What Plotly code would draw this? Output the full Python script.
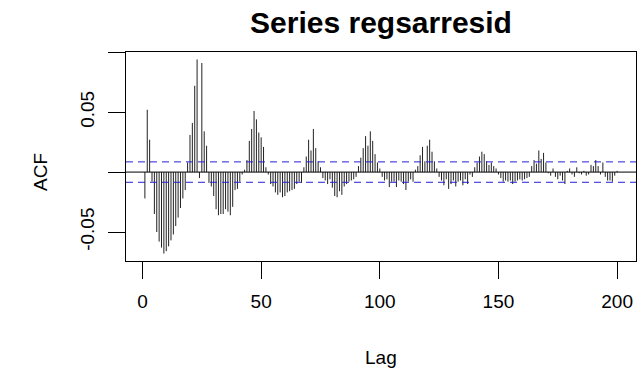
import plotly.graph_objects as go

lags = list(range(1, 201))
acf_vals = [
    -0.022, 0.052, 0.027, -0.008, -0.035, -0.050, -0.058, -0.063, -0.068, -0.066,
    -0.062, -0.057, -0.052, -0.045, -0.038, -0.030, -0.022, -0.015, 0.008, 0.031,
    0.041, 0.072, 0.094, -0.005, 0.091, 0.034, 0.022, -0.009, -0.012, -0.020,
    -0.031, -0.036, -0.035, -0.035, -0.031, -0.033, -0.036, -0.029, -0.015, -0.014,
    -0.008, -0.002, 0.002, 0.010, 0.026, 0.036, 0.051, 0.044, 0.033, 0.029,
    0.021, 0.004, -0.002, -0.010, -0.012, -0.017, -0.019, -0.017, -0.021, -0.020,
    -0.017, -0.016, -0.015, -0.014, -0.010, -0.008, -0.009, 0.004, 0.013, 0.027,
    0.018, 0.036, 0.020, 0.009, 0.004, -0.005, -0.007, -0.010, -0.006, -0.013,
    -0.020, -0.021, -0.016, -0.019, -0.012, -0.010, -0.008, -0.007, -0.006, -0.004,
    0.005, 0.012, 0.020, 0.030, 0.022, 0.034, 0.026, 0.015, 0.008, 0.003,
    -0.004, -0.007, -0.006, -0.0125, -0.008, -0.008, -0.0125, -0.007, -0.008, -0.010,
    -0.015, -0.008, -0.006, -0.008, 0.002, 0.005, 0.014, 0.021, 0.009, 0.022,
    0.027, 0.017, 0.009, 0.003, -0.004, -0.007, -0.011, -0.006, -0.014, -0.010,
    -0.007, -0.012, -0.008, -0.007, -0.011, -0.006, -0.010, -0.002, -0.004, 0.004,
    0.008, 0.013, 0.017, 0.015, 0.009, 0.006, 0.008, 0.005, 0.003, -0.002,
    -0.005, -0.008, -0.007, -0.008, -0.007, -0.010, -0.008, -0.007, -0.006, -0.007,
    -0.006, -0.005, -0.004, 0.005, 0.010, 0.007, 0.018, 0.011, 0.016, 0.008,
    -0.001, -0.003, 0.003, -0.004, -0.006, -0.003, -0.007, -0.010, 0.001, 0.003,
    -0.002, -0.004, 0.004, -0.001, -0.002, 0.001, -0.003, -0.002, 0.006, 0.005,
    0.010, 0.005, -0.002, 0.008, -0.004, -0.007, -0.007, -0.008, -0.003, 0.001,
]
conf_limit = 0.0085
x_ticks = [0, 50, 100, 150, 200]
y_ticks = [-0.05, 0.0, 0.05, 0.10]
y_tick_text = ["-0.05", "", "0.05", ""]
title_text = "Series regsarresid"
x_label = "Lag"
y_label = "ACF"

FONT = "Liberation Sans, Arial, sans-serif"

xs, ys = [], []
for lg, v in zip(lags, acf_vals):
    xs += [lg, lg, None]
    ys += [0, v, None]

xpad = (max(lags) - min(lags)) * 0.04
xr = [min(lags) - xpad, max(lags) + xpad]
yr = [-0.0742, 0.1002]

fig = go.Figure()
fig.add_trace(go.Scatter(x=xs, y=ys, mode="lines",
                         line=dict(color="#222222", width=1), hoverinfo="skip",
                         showlegend=False))

fig.add_shape(type="line", xref="paper", yref="y", x0=0, x1=1, y0=0, y1=0,
              line=dict(color="black", width=1))
for c in (conf_limit, -conf_limit):
    fig.add_shape(type="line", xref="paper", yref="y", x0=0, x1=1, y0=c, y1=c,
                  line=dict(color="#2020d0", width=1, dash="7px,5px"))

fig.update_layout(
    width=644, height=385,
    margin=dict(l=126, r=8, t=52, b=124),
    paper_bgcolor="white", plot_bgcolor="white",
    font=dict(family=FONT, size=19, color="black"),
    title=dict(text="<b>" + title_text + "</b>", x=0.5, xref="paper",
               xanchor="center", y=1 - 22 / 385, yanchor="middle",
               font=dict(size=30, family=FONT)),
    xaxis=dict(range=xr, tickvals=x_ticks, ticks="outside", ticklen=17,
               tickcolor="black", showgrid=False, zeroline=False,
               showline=True, linecolor="black", linewidth=1, mirror=True,
               tickfont=dict(size=19), ticklabelstandoff=6),
    yaxis=dict(range=yr, tickvals=y_ticks, ticktext=y_tick_text,
               ticks="outside", ticklen=17, tickcolor="black",
               showgrid=False, zeroline=False, showline=True,
               linecolor="black", linewidth=1, mirror=True,
               tickangle=-90, tickfont=dict(size=19), ticklabelstandoff=6),
    annotations=[
        dict(text=x_label, xref="paper", yref="paper", x=0.5, y=0,
             yshift=-(357 - 261), xanchor="center", yanchor="middle",
             showarrow=False, font=dict(size=19)),
        dict(text=y_label, xref="paper", yref="paper", x=0, y=0.5,
             xshift=-(126 - 40), yshift=-(172 - 156.5), xanchor="center",
             yanchor="middle", textangle=-90, showarrow=False,
             font=dict(size=19)),
    ],
)

fig.write_html("out.html")
